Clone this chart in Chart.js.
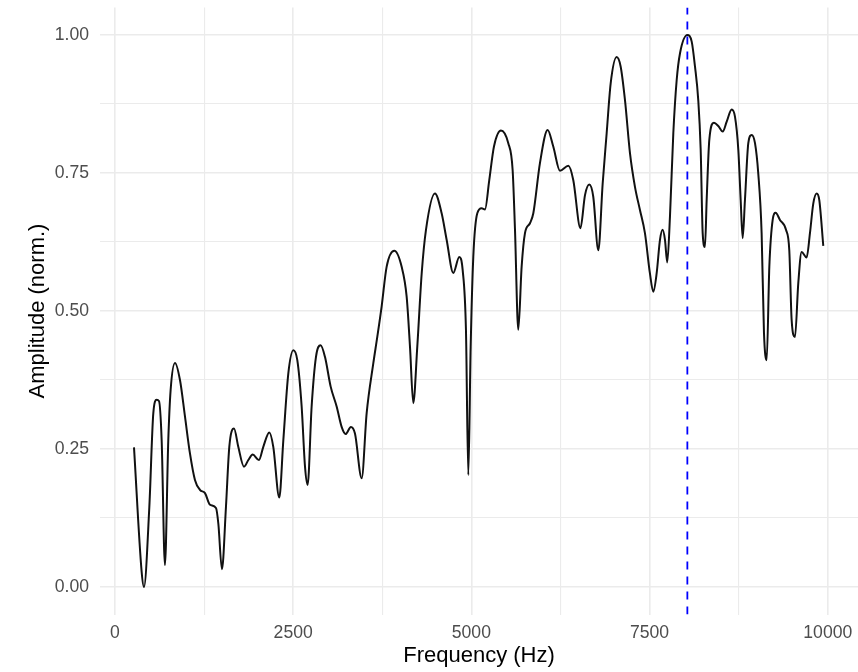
<!DOCTYPE html>
<html lang="en">
<head>
  <meta charset="UTF-8">
  <title>Spectrum</title>
  <script src="https://cdn.jsdelivr.net/npm/chart.js"></script>
  <style>
    html, body { margin: 0; padding: 0; background: #fff; }
    #wrap { width: 858px; height: 672px; position: relative; }
  </style>
</head>
<body>
  <div id="wrap"><canvas id="spectrum"></canvas></div>

  <script>
    // frequency (Hz) and normalised amplitude of the smoothed spectrum
    const freqHz = [
      267, 374, 407, 482, 538, 585, 617, 655, 701, 748, 781, 842, 912, 982,
      1052, 1122, 1192, 1263, 1333, 1417, 1450, 1501, 1557, 1604, 1670, 1730,
      1810, 1871, 1932, 2020, 2081, 2165, 2221, 2305, 2362, 2432, 2502, 2558,
      2619, 2666, 2703, 2759, 2820, 2885, 2946, 3026, 3110, 3180, 3236, 3310,
      3367, 3461, 3531, 3624, 3680, 3741, 3811, 3919, 4022, 4092, 4139, 4185,
      4241, 4303, 4363, 4489, 4583, 4653, 4746, 4830, 4878, 4924, 4957, 4990,
      5027, 5083, 5144, 5191, 5251, 5317, 5415, 5518, 5579, 5612, 5658, 5705,
      5752, 5822, 5869, 5962, 6070, 6149, 6243, 6360, 6430, 6530, 6594, 6654,
      6710, 6781, 6842, 6898, 6954, 7038, 7094, 7155, 7225, 7295, 7365, 7435,
      7505, 7552, 7599, 7646, 7683, 7716, 7748, 7786, 7833, 7880, 7927, 8030,
      8091, 8137, 8183, 8217, 8245, 8277, 8301, 8338, 8403, 8464, 8526, 8582,
      8652, 8698, 8745, 8778, 8806, 8838, 8885, 8932, 8979, 9025, 9072, 9105,
      9143, 9180, 9227, 9269, 9329, 9414, 9460, 9493, 9540, 9586, 9633, 9703,
      9750, 9797, 9844, 9881, 9937
    ];
    const amplitude = [
      0.253, 0.028, 0.000, 0.145, 0.315, 0.339, 0.337, 0.266, 0.040, 0.266, 0.357, 0.406, 0.375, 0.309,
      0.242, 0.194, 0.176, 0.170, 0.149, 0.143, 0.115, 0.032, 0.145, 0.254, 0.287, 0.254,
      0.218, 0.230, 0.240, 0.230, 0.254, 0.280, 0.254, 0.162, 0.266, 0.387, 0.429, 0.411,
      0.327, 0.218, 0.185, 0.327, 0.417, 0.438, 0.417, 0.363, 0.327, 0.290, 0.277, 0.290,
      0.278, 0.197, 0.315, 0.405, 0.453, 0.508, 0.580, 0.609, 0.580, 0.526, 0.435, 0.333,
      0.435, 0.568, 0.647, 0.713, 0.677, 0.629, 0.569, 0.598, 0.574, 0.466, 0.203, 0.435,
      0.598, 0.677, 0.686, 0.684, 0.737, 0.798, 0.827, 0.804, 0.755, 0.647, 0.466, 0.580,
      0.641, 0.659, 0.677, 0.768, 0.828, 0.798, 0.754, 0.763, 0.737, 0.650, 0.710, 0.729,
      0.707, 0.610, 0.731, 0.822, 0.912, 0.960, 0.943, 0.882, 0.786, 0.725, 0.683, 0.641,
      0.568, 0.535, 0.568, 0.629, 0.647, 0.629, 0.588, 0.671, 0.822, 0.918, 0.967, 1.000,
      0.988, 0.943, 0.882, 0.792, 0.641, 0.616, 0.701, 0.810, 0.841, 0.835, 0.825, 0.843,
      0.865, 0.852, 0.792, 0.701, 0.632, 0.701, 0.804, 0.819, 0.804, 0.749, 0.641, 0.460,
      0.411, 0.580, 0.665, 0.678, 0.665, 0.647, 0.610, 0.484, 0.453, 0.550, 0.607, 0.597,
      0.641, 0.695, 0.713, 0.701, 0.618
    ];
    // dominant frequency, marked with the dashed line
    const peakHz = 8030;

    const xTicks = [0, 1250, 2500, 3750, 5000, 6250, 7500, 8750, 10000];
    const yTicks = [0, 0.125, 0.25, 0.375, 0.5, 0.625, 0.75, 0.875, 1];

    const FONT = "'Liberation Sans', Arial, sans-serif";
    const gridColor = "#ebebeb";

    const esMayorY = v => Math.abs(v * 4 - Math.round(v * 4)) < 1e-6;
    const puntos = freqHz.map((f, i) => ({ x: f, y: amplitude[i] }));

    new Chart(document.getElementById("spectrum"), {
      type: "line",
      data: {
        datasets: [
          {
            data: puntos,
            order: 1,
            borderColor: "#111111",
            borderWidth: 2,
            pointRadius: 0,
            cubicInterpolationMode: "monotone",
            fill: false
          },
          {
            data: [{ x: peakHz, y: -0.05 }, { x: peakHz, y: 1.05 }],
            order: 0,
            borderColor: "#0000ff",
            borderWidth: 1.8,
            borderDash: [8, 7],
            pointRadius: 0,
            tension: 0,
            fill: false
          }
        ]
      },
      options: {
        responsive: true,
        maintainAspectRatio: false,
        animation: false,
        layout: { padding: { top: 7.4, right: 0, bottom: 0, left: 0 } },
        plugins: { legend: { display: false }, tooltip: { enabled: false } },
        scales: {
          x: {
            type: "linear",
            min: -210,
            max: 10424,
            afterBuildTicks: s => { s.ticks = xTicks.map(v => ({ value: v })); },
            afterFit: s => { s.height = 57.4; s.paddingLeft = 0; s.paddingRight = 0; },
            border: { display: false },
            grid: {
              drawTicks: false,
              color: gridColor,
              lineWidth: c => (c.tick && c.tick.value % 2500 === 0 ? 1.6 : 1.1)
            },
            ticks: {
              padding: 8,
              color: "#4d4d4d",
              font: { family: FONT, size: 17.6 },
              maxRotation: 0,
              callback: v => (v % 2500 === 0 ? String(v) : "")
            },
            title: {
              display: true,
              text: "Frequency (Hz)",
              color: "#000",
              font: { family: FONT, size: 22 },
              padding: { top: 0, bottom: 3 }
            }
          },
          y: {
            min: -0.05,
            max: 1.05,
            afterBuildTicks: s => { s.ticks = yTicks.map(v => ({ value: v })); },
            afterFit: s => { s.width = 100; s.paddingTop = 0; s.paddingBottom = 0; },
            border: { display: false },
            grid: {
              drawTicks: false,
              color: gridColor,
              lineWidth: c => (c.tick && esMayorY(c.tick.value) ? 1.6 : 1.1)
            },
            ticks: {
              padding: 11,
              color: "#4d4d4d",
              font: { family: FONT, size: 17.6 },
              callback: v => (esMayorY(v) ? v.toFixed(2) : "")
            },
            title: {
              display: true,
              text: "Amplitude (norm.)",
              color: "#000",
              font: { family: FONT, size: 22 },
              padding: { top: 25, bottom: 0 }
            }
          }
        }
      }
    });
  </script>
</body>
</html>
